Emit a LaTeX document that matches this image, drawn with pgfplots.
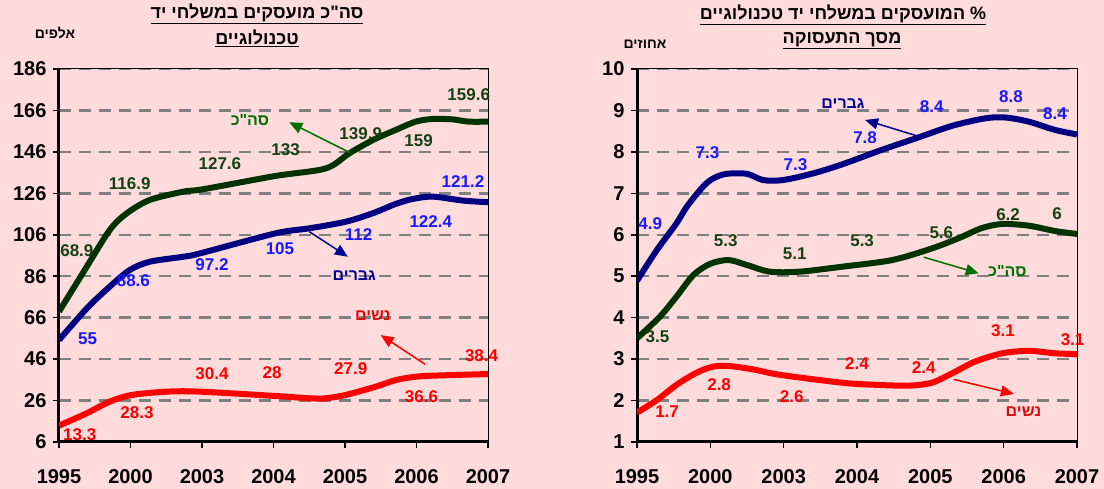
\documentclass[border=0pt]{standalone}
\usepackage{fontspec}
\setmainfont{Liberation Sans}
\newfontfamily\heb[Script=Hebrew]{Liberation Sans}
\TeXXeTstate=1
\usepackage{pgfplots}
\pgfplotsset{compat=1.18}
\usetikzlibrary{arrows.meta}
\definecolor{bg}{RGB}{255,219,219}
\definecolor{dgreen}{RGB}{0,51,0}
\definecolor{lgreen}{RGB}{20,65,20}
\definecolor{mgreen}{RGB}{0,110,0}
\definecolor{navy}{RGB}{0,0,128}
\definecolor{lblue}{RGB}{25,25,255}
\definecolor{dnavy}{RGB}{0,0,150}
\definecolor{myred}{RGB}{255,0,0}
\definecolor{dred}{RGB}{220,10,10}
\newcommand{\fs}[1]{\fontsize{#1}{#1}\selectfont}
\newcommand{\R}[1]{{\heb\beginR #1\endR}}
\tikzset{lab/.style={font=\bfseries\fs{17}}, hlab/.style={font=\bfseries\fs{16}},
  arr/.style={line width=1.5pt, -{Triangle[length=13pt,width=11pt]}}}
\pgfplotsset{mystyle/.style={
  scale only axis, xmin=0, xmax=6, xtick={0,...,6},
  xticklabels={1995,2000,2003,2004,2005,2006,2007},
  axis line style={black, line width=1pt},
  tick style={black, line width=1.5pt},
  major tick length=6pt, tick align=outside,
  xtick pos=bottom, ytick pos=left,
  ymajorgrids, grid style={gray, line width=2.5pt, dash pattern=on 12pt off 8pt},
  ticklabel style={font=\bfseries\fs{20}},
  /pgf/number format/assume math mode=true,
  xticklabel style={yshift=-18pt},
  yticklabel style={xshift=-3pt},
  clip mode=individual,
}}
\begin{document}
\begin{tikzpicture}[x=1pt,y=1pt]
\path[use as bounding box, fill=bg] (0,0) rectangle (1104,489);
% titles
\node[font=\bfseries\fs{18}] at (257,475) {\underline{\R{סה"כ מועסקים במשלחי יד}}};
\node[font=\bfseries\fs{18}] at (257,451) {\underline{\R{טכנולוגיים}}};
\node[font=\bfseries\fs{14}] at (55,456) {\R{אלפים}};
\node[font=\bfseries\fs{18}] at (843,474) {\underline{\R{\% המועסקים במשלחי יד טכנולוגיים}}};
\node[font=\bfseries\fs{18}] at (842,448) {\underline{\R{מסך התעסוקה}}};
\node[font=\bfseries\fs{14}] at (645,445) {\R{אחוזים}};

\begin{axis}[mystyle, at={(59pt,47pt)}, anchor=south west, width=429pt, height=373pt,
  ymin=6, ymax=186, ytick={6,26,...,186}]
\draw[black, line width=3pt] (rel axis cs:0,1) -- (rel axis cs:0,0) -- (rel axis cs:1,0);
\addplot[dgreen, line width=6pt, smooth] coordinates {(0,68.9) (0.36,89) (0.71,108.3) (0.95,116.4) (1.27,122.8) (1.74,126.8) (2.02,128) (3.03,134.4) (3.73,138) (4.06,145.3) (4.39,151.7) (4.71,156.6) (4.99,160.6) (5.23,161.9) (5.5,161.7) (5.73,160.6) (6,160.6)};
\addplot[navy, line width=6pt, smooth] coordinates {(0,55.2) (0.39,70.5) (0.71,81) (0.99,89) (1.27,93) (1.74,95.4) (1.97,97) (3.03,106.7) (3.5,109.1) (4.01,112.3) (4.39,116.4) (4.71,120.9) (4.95,123.3) (5.23,124.4) (5.65,122.5) (6,121.7)};
\addplot[myred, line width=6pt, smooth] coordinates {(0,13.9) (0.39,19.9) (0.71,25.5) (1.02,28.7) (1.51,30.3) (1.97,30.3) (3.03,28.2) (3.5,27.1) (3.73,27.1) (4.01,28.7) (4.43,32.7) (4.71,35.9) (4.99,37.5) (5.23,38) (6,38.8)};
% green labels
\node[lab, lgreen] at (axis cs:0.25,98.2) {68.9};
\node[lab, lgreen] at (axis cs:0.99,130.9) {116.9};
\node[lab, lgreen] at (axis cs:2.25,140.5) {127.6};
\node[lab, lgreen] at (axis cs:3.17,146.9) {133};
\node[lab, lgreen] at (axis cs:4.22,155) {139.9};
\node[lab, lgreen] at (axis cs:5.03,151.4) {159};
\node[lab, lgreen] at (axis cs:5.73,173.5) {159.6};
\node[hlab, mgreen] at (axis cs:2.67,161.4) {\R{סה"כ}};
\draw[mgreen, arr] (axis cs:4.07,145.6) -- (axis cs:3.22,160.3);
% blue labels
\node[lab, lblue] at (axis cs:0.4,55.6) {55};
\node[lab, lblue] at (axis cs:1.04,83.9) {88.6};
\node[lab, lblue] at (axis cs:2.14,91.4) {97.2};
\node[lab, lblue] at (axis cs:3.09,99.1) {105};
\node[lab, lblue] at (axis cs:4.19,106.2) {112};
\node[lab, lblue] at (axis cs:5.2,112.3) {122.4};
\node[lab, lblue] at (axis cs:5.65,131.6) {121.2};
\node[hlab, dnavy] at (axis cs:4.13,86.1) {\R{גברים}};
\draw[dnavy, arr] (axis cs:3.5,107.5) -- (axis cs:4.04,95.4);
% red labels
\node[lab, myred] at (axis cs:0.29,9.4) {13.3};
\node[lab, myred] at (axis cs:1.09,20.1) {28.3};
\node[lab, myred] at (axis cs:2.14,39.2) {30.4};
\node[lab, myred] at (axis cs:2.98,39.3) {28};
\node[lab, myred] at (axis cs:4.08,41.2) {27.9};
\node[lab, myred] at (axis cs:5.07,27.9) {36.6};
\node[lab, myred] at (axis cs:5.91,47.7) {38.4};
\node[hlab, dred] at (axis cs:4.39,67) {\R{נשים}};
\draw[myred, arr] (axis cs:5.12,43.5) -- (axis cs:4.5,57.6);
\end{axis}

\begin{axis}[mystyle, at={(637pt,47pt)}, anchor=south west, width=440pt, height=373pt,
  ymin=1, ymax=10, ytick={1,...,10}]
\draw[black, line width=3pt] (rel axis cs:0,1) -- (rel axis cs:0,0) -- (rel axis cs:1,0);
\addplot[navy, line width=6pt, smooth] coordinates {(0,4.89) (0.27,5.63) (0.54,6.28) (0.68,6.68) (0.9,7.16) (1.04,7.36) (1.22,7.47) (1.5,7.47) (1.72,7.32) (1.99,7.32) (2.4,7.48) (2.8,7.7) (3.34,8.05) (3.84,8.35) (4.3,8.63) (4.75,8.81) (5.02,8.83) (5.34,8.73) (5.7,8.53) (6,8.42)};
\addplot[dgreen, line width=6pt, smooth] coordinates {(0,3.5) (0.31,4.02) (0.54,4.51) (0.77,5.03) (1.0,5.3) (1.25,5.39) (1.5,5.27) (1.81,5.11) (2.22,5.11) (2.8,5.23) (3.48,5.39) (4.02,5.67) (4.39,5.92) (4.7,6.16) (4.98,6.26) (5.34,6.22) (5.7,6.09) (6,6.02)};
\addplot[myred, line width=6pt, smooth] coordinates {(0,1.71) (0.27,2.01) (0.54,2.38) (0.81,2.67) (1.04,2.82) (1.27,2.83) (1.59,2.75) (1.95,2.62) (2.8,2.43) (3.25,2.38) (3.7,2.36) (4.02,2.43) (4.3,2.66) (4.61,2.94) (4.98,3.14) (5.34,3.2) (5.7,3.14) (6,3.12)};
% blue labels
\node[lab, lblue] at (axis cs:0.18,6.28) {4.9};
\node[lab, lblue] at (axis cs:0.96,7.97) {7.3};
\node[lab, lblue] at (axis cs:2.16,7.68) {7.3};
\node[lab, lblue] at (axis cs:3.11,8.35) {7.8};
\node[lab, lblue] at (axis cs:4.02,9.08) {8.4};
\node[lab, lblue] at (axis cs:5.1,9.33) {8.8};
\node[lab, lblue] at (axis cs:5.7,8.93) {8.4};
\node[hlab, dnavy] at (axis cs:2.81,9.16) {\R{גברים}};
\draw[dnavy, arr] (axis cs:3.83,8.38) -- (axis cs:3.11,8.77);
% green labels
\node[lab, lgreen] at (axis cs:0.28,3.53) {3.5};
\node[lab, lgreen] at (axis cs:1.21,5.86) {5.3};
\node[lab, lgreen] at (axis cs:2.15,5.55) {5.1};
\node[lab, lgreen] at (axis cs:3.07,5.86) {5.3};
\node[lab, lgreen] at (axis cs:4.15,6.05) {5.6};
\node[lab, lgreen] at (axis cs:5.06,6.48) {6.2};
\node[lab, lgreen] at (axis cs:5.73,6.52) {6};
\node[hlab, mgreen] at (axis cs:5.05,5.13) {\R{סה"כ}};
\draw[mgreen, arr] (axis cs:3.91,5.46) -- (axis cs:4.66,5.07);
% red labels
\node[lab, myred] at (axis cs:0.41,1.73) {1.7};
\node[lab, myred] at (axis cs:1.12,2.39) {2.8};
\node[lab, myred] at (axis cs:2.11,2.09) {2.6};
\node[lab, myred] at (axis cs:3.0,2.9) {2.4};
\node[lab, myred] at (axis cs:3.91,2.8) {2.4};
\node[lab, myred] at (axis cs:4.99,3.68) {3.1};
\node[lab, myred] at (axis cs:5.94,3.48) {3.1};
\node[hlab, dred] at (axis cs:5.27,1.73) {\R{נשים}};
\draw[myred, arr] (axis cs:4.32,2.51) -- (axis cs:5.14,2.16);
\end{axis}
\end{tikzpicture}
\end{document}
